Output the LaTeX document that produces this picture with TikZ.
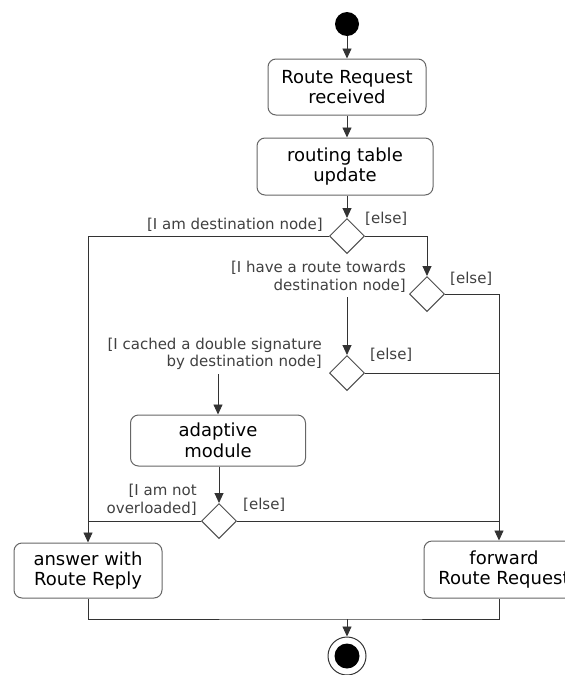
\documentclass[tikz,border=0pt]{standalone}
\usepackage{fontspec}
\setmainfont{DejaVu Sans}
\usetikzlibrary{shapes.geometric,arrows.meta}
\begin{document}
\begin{tikzpicture}[x=1pt,y=-1pt,
  act/.style={draw=black!60, line width=1pt, rounded corners=8pt, align=center, inner sep=0pt,
    font=\fontsize{18}{20.5}\selectfont},
  dec/.style={draw=black!70, line width=1pt, diamond, minimum width=35pt, minimum height=35pt, inner sep=0pt},
  lbl/.style={font=\fontsize{15}{17.5}\selectfont, text=black!75, inner sep=0pt},
  flow/.style={draw=black!80, line width=0.9pt},
  arr/.style={flow, -{Triangle[width=9pt,length=10pt]}},
]
\useasboundingbox (0,0) rectangle (565,675);
\clip (0,0) rectangle (565,675);

% nodes
\node[circle, fill=black, minimum size=24pt, inner sep=0pt] (start) at (347,24) {};
\node[act, minimum width=158pt, minimum height=56pt] (b1) at (347,87) {Route Request\\received};
\node[act, minimum width=176pt, minimum height=57pt] (b2) at (345,166.5) {routing table\\update};
\node[dec] (d1) at (347,236) {};
\node[dec] (d2) at (427,294) {};
\node[dec] (d3) at (347,373) {};
\node[act, minimum width=175pt, minimum height=51pt] (adapt) at (218,440.5) {adaptive\\module};
\node[dec] (d4) at (219,521) {};
\node[act, minimum width=148pt, minimum height=55pt] (answer) at (88,570.5) {answer with\\Route Reply};
\node[act, minimum width=160pt, minimum height=57pt] (forward) at (504,569.5) {forward\\Route Request};
\node[circle, draw=black!80, line width=1pt, minimum size=38pt, inner sep=0pt] (stop) at (347,656) {};
\node[circle, fill=black, minimum size=25pt, inner sep=0pt] (stopin) at (stop) {};

% guard labels
\node[lbl, anchor=east] (l1) at (323,225) {[I am destination node]};
\node[lbl, anchor=west] (l2) at (365,219) {[else]};
\node[lbl, anchor=east, align=right] (l3) at (406,277) {[I have a route towards\\destination node]};
\node[lbl, anchor=west] (l4) at (450,279) {[else]};
\node[lbl, anchor=east, align=right] (l5) at (322,354) {[I cached a double signature\\by destination node]};
\node[lbl, anchor=west] (l6) at (370,355) {[else]};
\node[lbl, anchor=east, align=right] (l7) at (197,500) {[I am not\\overloaded]};
\node[lbl, anchor=west] (l8) at (243,505) {[else]};

% helper coordinates
\coordinate (c23) at (347,297);
\coordinate (c3a) at (218,374);
\coordinate (join) at (347,619);
\coordinate (fwin) at ([xshift=-5pt]forward.north);
\coordinate (fwout) at ([xshift=-5pt]forward.south);

% connectors
\draw[arr] (start.south) -- (start.south |- b1.north);
\draw[arr] (b1.south) -- (b1.south |- b2.north);
\draw[arr] (b2.south -| d1) -- (d1.north);
\draw[arr] (d1.west) -- (d1.west -| answer.north) -- (answer.north);
\draw[arr] (d1.east) -| (d2.north);
\draw[arr] (d2.east) -| (fwin);
\draw[arr] (c23) -- (d3.north);
\draw[flow] (d3.east) -- (d3.east -| fwin);
\draw[arr] (c3a) -- (c3a |- adapt.north);
\draw[arr] (adapt.south -| d4) -- (d4.north);
\draw[flow] (d4.west) -- (d4.west -| answer.north);
\draw[flow] (d4.east) -- (d4.east -| fwin);
\draw[flow] (answer.south) |- (join) -| (fwout);
\draw[arr] (join) -- (stop.north);
\end{tikzpicture}
\end{document}
